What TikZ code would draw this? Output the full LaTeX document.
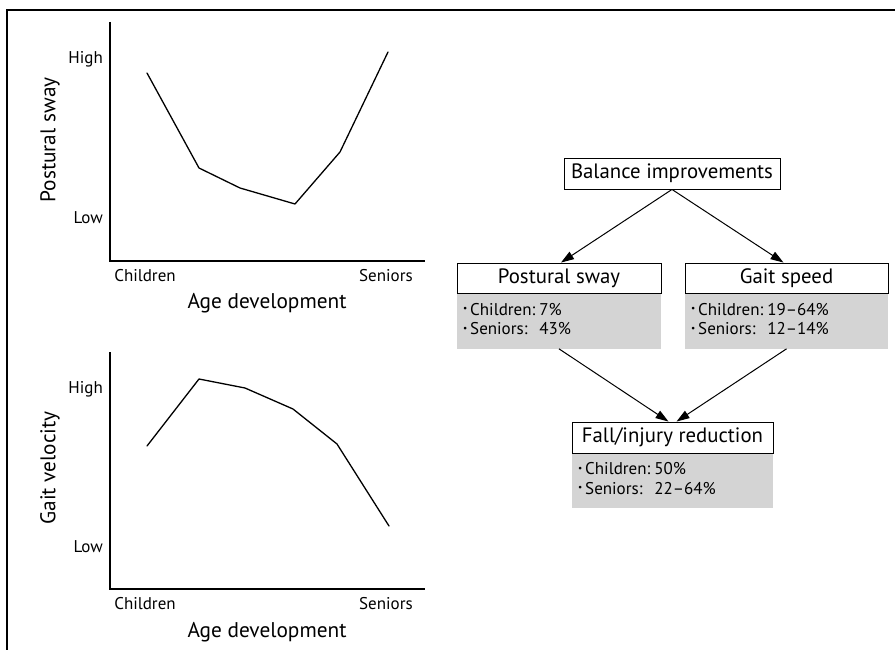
\documentclass[tikz,border=0pt]{standalone}
\usepackage{fontspec}
\setmainfont{PT Sans}
\usetikzlibrary{arrows.meta}
\definecolor{boxgray}{RGB}{212,212,212}
\tikzset{
  axisline/.style={line width=1.3pt},
  curveline/.style={line width=1.3pt, line join=round, line cap=round},
  ticklab/.style={font=\fontsize{17}{18}\selectfont, inner sep=0pt},
  axlab/.style={font=\fontsize{21.3}{24}\selectfont, inner sep=0pt},
  head/.style={draw, line width=0.9pt, fill=white, inner sep=0pt, font=\fontsize{20.8}{23}\selectfont},
  bodybox/.style={fill=boxgray, anchor=north, inner xsep=6pt, inner ysep=0pt, font=\fontsize{17}{19.5}\selectfont},
  arr/.style={line width=1pt, -{Triangle[length=13pt,width=8.5pt]}},
  frameline/.style={line width=2pt}
}
\newcommand{\bitem}{\raisebox{0.2em}{\scalebox{0.55}{•}}\hspace{3pt}}
\begin{document}
\begin{tikzpicture}[x=1pt,y=-1pt]
\useasboundingbox (0,0) rectangle (895,650);
\draw[frameline] (7,650) -- (7,10.5) -- (895,10.5);

% ---- top chart
\coordinate (ta0) at (110,22);
\coordinate (ta1) at (110,261);
\coordinate (ta2) at (425,261);
\draw[axisline] (ta0) -- (ta1) -- (ta2);
\node[ticklab, anchor=east] (thigh) at (103,59) {High};
\node[ticklab, anchor=east] (tlow) at (103,218) {Low};
\node[ticklab] (tch) at (145,276) {Children};
\node[ticklab] (tse) at (386,276) {Seniors};
\node[axlab] (tage) at (267,303) {Age development};
\node[axlab, rotate=90] (tys) at (50,140) {Postural sway};
\draw[curveline] (147,73) -- (199,168) -- (240,188) -- (295,204) -- (340,152) -- (388,52);

% ---- bottom chart
\coordinate (ba0) at (110,352);
\coordinate (ba1) at (110,589);
\coordinate (ba2) at (425,589);
\draw[axisline] (ba0) -- (ba1) -- (ba2);
\node[ticklab, anchor=east] (bhigh) at (103,389) {High};
\node[ticklab, anchor=east] (blow) at (103,547) {Low};
\node[ticklab] (bch) at (145,604) {Children};
\node[ticklab] (bse) at (386,604) {Seniors};
\node[axlab] (bage) at (267,632) {Age development};
\node[axlab, rotate=90] (bys) at (50,468) {Gait velocity};
\draw[curveline] (147,446) -- (199,379) -- (245,388) -- (293,409) -- (337,444) -- (389,526);

% ---- flow chart
\node[head, minimum width=216, minimum height=31] (bal) at (672,173.5) {Balance improvements};

\node[head, minimum width=204, minimum height=30] (ps) at (559,278) {Postural sway};
\node[bodybox, minimum width=204, minimum height=55, text width=192] (psb) at (ps.south)
  {\begin{tabular}{@{}l@{\hspace{4pt}}l@{}}\bitem Children: & 7\%\\ \bitem Seniors: & 43\%\end{tabular}};

\node[head, minimum width=203, minimum height=30] (gs) at (786.5,278) {Gait speed};
\node[bodybox, minimum width=203, minimum height=55, text width=191] (gsb) at (gs.south)
  {\begin{tabular}{@{}l@{\hspace{4pt}}l@{}}\bitem Children: & 19–64\%\\ \bitem Seniors: & 12–14\%\end{tabular}};

\node[head, minimum width=201, minimum height=31] (fall) at (672.5,437.5) {Fall/injury reduction};
\node[bodybox, minimum width=201, minimum height=54, text width=189] (fallb) at (fall.south)
  {\begin{tabular}{@{}l@{\hspace{4pt}}l@{}}\bitem Children: & 50\%\\ \bitem Seniors: & 22–64\%\end{tabular}};

\draw[arr] (bal.south) -- ([xshift=2]ps.north);
\draw[arr] (bal.south) -- ([xshift=-3]gs.north);
\draw[arr] (psb.south) -- ([xshift=-4]fall.north);
\draw[arr] (gsb.south) -- ([xshift=4]fall.north);
\end{tikzpicture}
\end{document}
